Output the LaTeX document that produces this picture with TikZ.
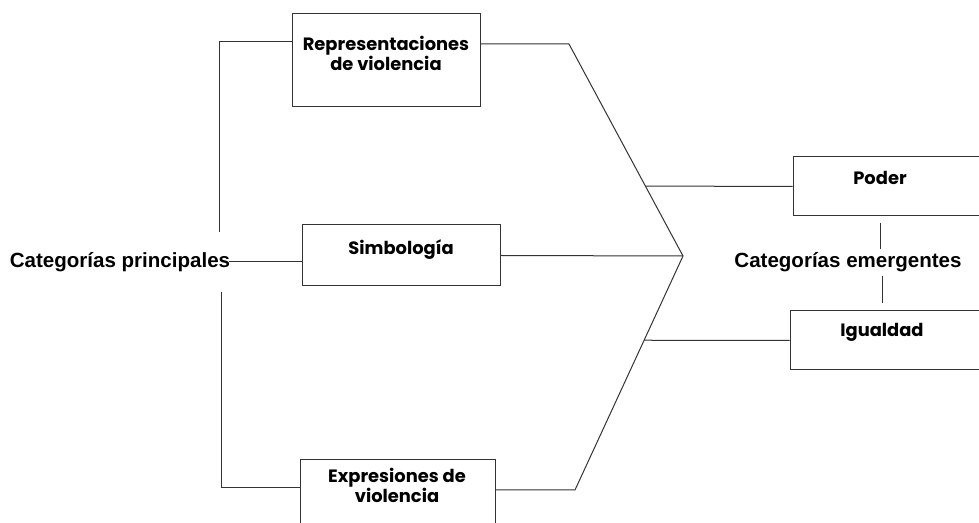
\documentclass[tikz,border=0pt]{standalone}
\usepackage{fontspec}
\setmainfont{Liberation Sans}
\newfontfamily\boxfont{Poppins}
\usetikzlibrary{calc}
\begin{document}
\begin{tikzpicture}[x=0.75pt,y=-0.75pt]

  \tikzset{
    caja/.style={draw=black!80, line width=0.75pt, inner sep=0pt},
    rotulo/.style={font=\boxfont\bfseries\fontsize{13.4}{15}\selectfont, align=center, inner sep=0pt},
    categoria/.style={font=\bfseries\fontsize{15.4}{17}\selectfont, inner sep=1pt},
    enlace/.style={draw=black!80, line width=0.75pt},
  }

  \useasboundingbox (0,0) rectangle (979,523);
  \clip (0,0) rectangle (979,523);

  %cajas izquierda
  \node[caja, minimum width=141pt, minimum height=69.75pt] (repr) at (386,60.5) {};
  \node[caja, minimum width=148.5pt, minimum height=45.75pt] (simb) at (401,255.5) {};
  \node[caja, minimum width=146.25pt, minimum height=60pt] (expr) at (397.5,500) {};
  %cajas derecha
  \node[caja, minimum width=155.25pt, minimum height=44.25pt] (poder) at (896.5,186.5) {};
  \node[caja, minimum width=157.5pt, minimum height=44.25pt] (igual) at (895,340.5) {};

  %textos
  \node[rotulo] (repr-t) at (386,53) {Representaciones\\de violencia};
  \node[rotulo] (simb-t) at (401,250) {Simbología};
  \node[rotulo] (expr-t) at (397,485) {Expresiones de\\violencia};
  \node[rotulo] (poder-t) at (880,178) {Poder};
  \node[rotulo] (igual-t) at (882,332) {Igualdad};
  \node[categoria] (princ) at (120,262) {Categorías principales};
  \node[categoria] (emerg) at (848,262) {Categorías emergentes};

  %tronco izquierdo
  \coordinate (izq-a) at (219,42);
  \coordinate (izq-b) at (219,232);
  \coordinate (izq-c) at (221,292);
  \coordinate (izq-d) at (221,488);
  \draw[enlace] (repr.west |- izq-a) -- (izq-a) -- (izq-b);
  \draw[enlace] ([xshift=-2pt]princ.east) -- (princ.east -| simb.west);
  \draw[enlace] (izq-c) -- (izq-d) -- (izq-d -| expr.west);

  %punta derecha
  \coordinate (der-a) at (569,44);
  \coordinate (punta) at (683,256);
  \coordinate (der-b) at (575,490);
  \draw[enlace] (repr.east |- der-a) -- (der-a) -- (punta) -- (der-b) -- (der-b -| expr.east);
  \draw[enlace] (simb.east) -- (punta);
  \draw[enlace] ($(der-a)!0.67!(punta)$) -- (poder.west);
  \draw[enlace] ($(punta)!0.36!(der-b)$) -- (igual.west);

  %emergentes
  \draw[enlace] ($(poder-t |- poder.south)+(0,7)$) -- ($(poder-t |- emerg.north)+(0,-2)$);
  \draw[enlace] ($(igual-t |- emerg.south)+(0,3)$) -- ($(igual-t |- igual.north)+(0,-7)$);

\end{tikzpicture}
\end{document}
